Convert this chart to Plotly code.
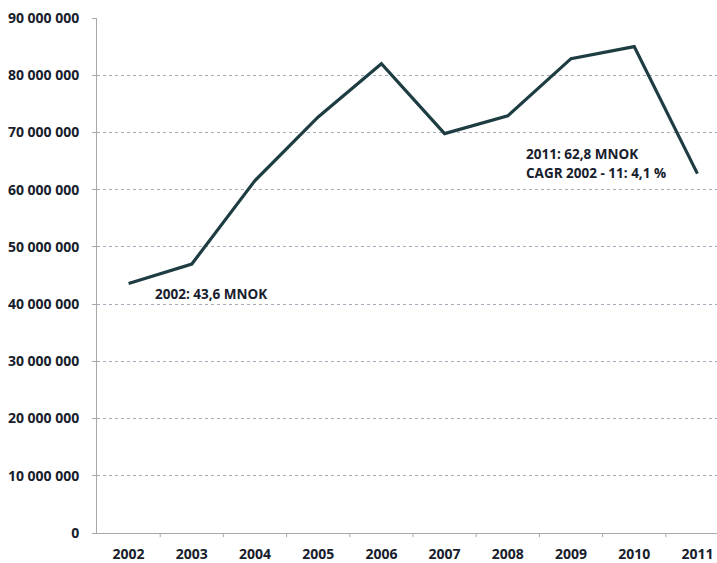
import plotly.graph_objects as go

years = ["2002", "2003", "2004", "2005", "2006", "2007", "2008", "2009", "2010", "2011"]
values = [43.6e6, 47.0e6, 61.6e6, 72.7e6, 82.0e6, 69.8e6, 72.9e6, 82.9e6, 85.0e6, 62.8e6]
ytick_vals = [0, 10e6, 20e6, 30e6, 40e6, 50e6, 60e6, 70e6, 80e6, 90e6]
ytick_text = ["0", "10 000 000", "20 000 000", "30 000 000", "40 000 000", "50 000 000",
              "60 000 000", "70 000 000", "80 000 000", "90 000 000"]

FONT = "Open Sans"
TXT = "#17202c"

fig = go.Figure()
fig.add_trace(go.Scatter(
    x=list(range(len(years))), y=values, mode="lines",
    line=dict(color="#1d3d42", width=3.2),
    hoverinfo="skip", showlegend=False,
))

fig.update_layout(
    width=717, height=563,
    margin=dict(l=97, r=0, t=18, b=30),
    paper_bgcolor="white", plot_bgcolor="white",
    font=dict(family=FONT, size=14, color=TXT),
    xaxis=dict(
        range=[-0.5, 9.31],
        tickmode="array", tickvals=list(range(len(years))), ticktext=years,
        tickfont=dict(family=FONT, size=14, color=TXT, weight="bold"),
        showgrid=False, zeroline=False,
        showline=True, linecolor="#a8a8a8", linewidth=1,
        ticks="", ticklabelstandoff=8,
    ),
    yaxis=dict(
        range=[0, 90e6],
        tickmode="array", tickvals=ytick_vals, ticktext=ytick_text,
        tickfont=dict(family=FONT, size=14, color=TXT, weight="bold"),
        showgrid=True, gridcolor="#a9a9b9", gridwidth=1, griddash="dot",
        zeroline=False,
        showline=True, linecolor="#a8a8a8", linewidth=1,
        ticks="outside", ticklen=4, tickcolor="#a8a8a8",
        ticklabelstandoff=10,
    ),
)

# category boundary tick marks on x-axis
for i in range(len(years)):
    fig.add_shape(type="line", xref="x", yref="paper",
                  x0=i + 0.5, x1=i + 0.5, y0=0, y1=-0.008,
                  line=dict(color="#a8a8a8", width=1))

ann_font = dict(family=FONT, size=13.5, color=TXT, weight="bold")
fig.add_annotation(x=0.38, y=41.8e6, xref="x", yref="y", text="2002: 43,6 MNOK",
                   showarrow=False, xanchor="left", yanchor="middle", font=ann_font)
fig.add_annotation(x=6.25, y=66.3e6, xref="x", yref="y", text="2011: 62,8 MNOK",
                   showarrow=False, xanchor="left", yanchor="middle", font=ann_font)
fig.add_annotation(x=6.25, y=62.9e6, xref="x", yref="y", text="CAGR 2002 - 11: 4,1 %",
                   showarrow=False, xanchor="left", yanchor="middle", font=ann_font)

fig.write_html("out.html", config={"displayModeBar": False},
               post_script="document.body.style.margin='0';document.body.style.overflow='hidden';")
